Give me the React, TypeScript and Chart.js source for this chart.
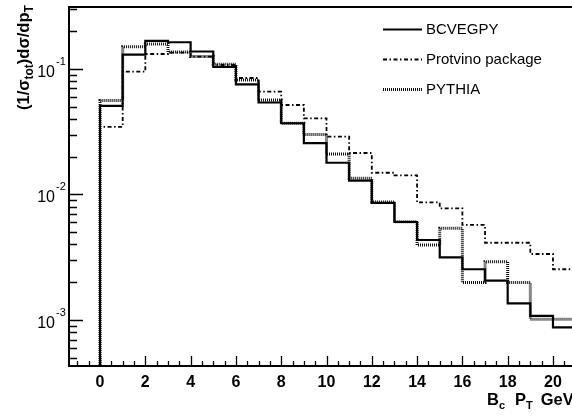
import React, { useEffect, useRef } from 'react';
import { Chart, registerables } from 'chart.js';

Chart.register(...registerables);

// ---- data (bin lower edges in GeV, width 1) ----
const binLowEdges = [0, 1, 2, 3, 4, 5, 6, 7, 8, 9, 10, 11, 12, 13, 14, 15, 16, 17, 18, 19, 20];
const binWidth = 1;
const bcvegpy = [0.0507, 0.130, 0.167, 0.163, 0.1375, 0.1035, 0.0754, 0.054, 0.0369, 0.0256, 0.0179, 0.0129, 0.00856, 0.00604, 0.00434, 0.00316, 0.00254, 0.00206, 0.00136, 0.00108, 0.000876];
const protvino = [0.0345, 0.095, 0.1314, 0.1346, 0.1251, 0.1074, 0.0846, 0.0658, 0.0516, 0.0404, 0.0289, 0.0214, 0.0149, 0.0142, 0.00864, 0.00776, 0.00572, 0.00413, 0.00413, 0.00336, 0.00254];
const pythia = [0.056, 0.150, 0.158, 0.136, 0.1255, 0.1088, 0.0816, 0.0565, 0.0369, 0.0301, 0.021, 0.01346, 0.00872, 0.00607, 0.00396, 0.00538, 0.00199, 0.00292, 0.00199, 0.001015, 0.001015];
const seriesLabels = ['BCVEGPY', 'Protvino package', 'PYTHIA'];
const histFloor = 1e-6;

// ---- axes ----
const xTickLabels = [0, 2, 4, 6, 8, 10, 12, 14, 16, 18, 20];
const yDecadeExponents = [-1, -2, -3];
const xMin = -1.37;
const xMax = 20.84;
const yMin = 4.31e-4;
const yMax = 0.311;

const FONT = "'Liberation Sans', Arial, Helvetica, sans-serif";

function steps(values: number[]) {
  const pts = [{ x: binLowEdges[0], y: histFloor }];
  values.forEach((v, i) => pts.push({ x: binLowEdges[i], y: v }));
  const last = values.length - 1;
  pts.push({ x: binLowEdges[last] + binWidth, y: values[last] });
  return pts;
}

const decorPlugin = {
  id: 'decor',
  afterDraw(chart: any) {
    const { ctx, chartArea: a } = chart;
    const xs = chart.scales.x;
    const ys = chart.scales.y;
    ctx.save();
    ctx.strokeStyle = '#000';
    ctx.fillStyle = '#000';

    // x ticks (inward)
    ctx.lineWidth = 1.3;
    ctx.beginPath();
    for (let k = Math.ceil(xs.min * 2); k / 2 <= xs.max; k++) {
      const v = k / 2;
      const px = Math.round(xs.getPixelForValue(v)) + 0.5;
      const len = k % 4 === 0 ? 10 : 5;
      ctx.moveTo(px, a.bottom);
      ctx.lineTo(px, a.bottom - len);
    }
    ctx.stroke();

    // y ticks (inward)
    ctx.beginPath();
    for (let d = -5; d <= 1; d++) {
      for (let m = 1; m <= 9; m++) {
        const v = m * Math.pow(10, d);
        if (v < ys.min || v > ys.max) continue;
        const py = Math.round(ys.getPixelForValue(v)) + 0.5;
        const len = m === 1 ? 14 : 8;
        ctx.moveTo(a.left, py);
        ctx.lineTo(a.left + len, py);
      }
    }
    ctx.stroke();

    // frame
    ctx.lineWidth = 2;
    ctx.beginPath();
    ctx.moveTo(a.right + 2, a.top);
    ctx.lineTo(a.left, a.top);
    ctx.lineTo(a.left, a.bottom);
    ctx.lineTo(a.right + 2, a.bottom);
    ctx.stroke();

    // x tick labels
    ctx.font = `bold 16px ${FONT}`;
    ctx.textAlign = 'center';
    ctx.textBaseline = 'alphabetic';
    xTickLabels.forEach((t) => {
      ctx.fillText(String(t), xs.getPixelForValue(t), a.bottom + 21);
    });

    // y tick labels 10^n
    yDecadeExponents.forEach((e) => {
      const py = ys.getPixelForValue(Math.pow(10, e));
      ctx.font = `16px ${FONT}`;
      ctx.textAlign = 'right';
      ctx.textBaseline = 'alphabetic';
      ctx.fillText('10', 55, py + 8);
      ctx.font = `11px ${FONT}`;
      ctx.textAlign = 'left';
      ctx.fillText('-' + String(-e), 56, py - 4);
    });

    const drawRun = (
      parts: { t: string; sub?: boolean; gap?: number }[],
      x0: number,
      y0: number,
      main: number,
      small: number,
      drop: number
    ) => {
      let x = x0;
      parts.forEach((p) => {
        ctx.font = p.sub ? `bold ${small}px ${FONT}` : `bold ${main}px ${FONT}`;
        ctx.textAlign = 'left';
        ctx.textBaseline = 'alphabetic';
        ctx.fillText(p.t, x, y0 + (p.sub ? drop : 0));
        x += ctx.measureText(p.t).width + (p.gap || 0);
      });
      return x - x0;
    };

    // x-axis title: B_c  P_T  GeV
    drawRun(
      [
        { t: 'B' },
        { t: 'c', sub: true, gap: 10 },
        { t: 'P' },
        { t: 'T', sub: true, gap: 8 },
        { t: 'GeV' },
      ],
      487,
      405,
      16.5,
      11,
      4
    );

    // y-axis title rotated: (1/σ_tot)dσ/dp_T
    ctx.save();
    ctx.translate(29, 110);
    ctx.rotate(-Math.PI / 2);
    drawRun(
      [
        { t: '(1/σ' },
        { t: 'tot', sub: true },
        { t: ')dσ/dp' },
        { t: 'T', sub: true },
      ],
      0,
      0,
      16.5,
      12,
      3.5
    );
    ctx.restore();

    // legend
    const legendY = [28.5, 58.5, 88.5];
    chart.data.datasets.forEach((ds: any, i: number) => {
      const y = legendY[i];
      ctx.save();
      ctx.strokeStyle = ds.borderColor;
      ctx.lineWidth = ds.borderWidth;
      ctx.setLineDash(ds.borderDash || []);
      ctx.beginPath();
      ctx.moveTo(383, Math.round(y) + 0.5);
      ctx.lineTo(422, Math.round(y) + 0.5);
      ctx.stroke();
      ctx.restore();
      ctx.font = `15px ${FONT}`;
      ctx.textAlign = 'left';
      ctx.textBaseline = 'middle';
      ctx.fillText(ds.label, 426, y + 1);
    });

    ctx.restore();
  },
};

export default function App() {
  const canvasRef = useRef<HTMLCanvasElement | null>(null);

  useEffect(() => {
    const canvas = canvasRef.current;
    if (!canvas) return;
    const chart = new Chart(canvas, {
      type: 'line',
      data: {
        datasets: [
          {
            label: seriesLabels[0],
            data: steps(bcvegpy),
            stepped: 'before',
            borderColor: '#000',
            borderWidth: 2.2,
            pointRadius: 0,
            fill: false,
          },
          {
            label: seriesLabels[1],
            data: steps(protvino),
            stepped: 'before',
            borderColor: '#000',
            borderWidth: 1.8,
            borderDash: [4, 2.5, 1.5, 2.5],
            pointRadius: 0,
            fill: false,
          },
          {
            label: seriesLabels[2],
            data: steps(pythia),
            stepped: 'before',
            borderColor: '#111',
            borderWidth: 3,
            borderDash: [1, 1],
            pointRadius: 0,
            fill: false,
          },
        ],
      } as any,
      options: {
        responsive: false,
        devicePixelRatio: 1,
        animation: false,
        events: [],
        layout: { padding: { left: 69, top: 7, right: 0, bottom: 51 } },
        scales: {
          x: { type: 'linear', min: xMin, max: xMax, display: false, bounds: 'data' },
          y: { type: 'logarithmic', min: yMin, max: yMax, display: false, bounds: 'data' },
        },
        plugins: {
          legend: { display: false },
          tooltip: { enabled: false },
        },
      } as any,
      plugins: [decorPlugin],
    });
    return () => chart.destroy();
  }, []);

  return (
    <div style={{ position: 'fixed', left: 0, top: 0, width: 572, height: 417, background: '#fff' }}>
      <canvas ref={canvasRef} width={572} height={417} style={{ display: 'block' }} />
    </div>
  );
}
